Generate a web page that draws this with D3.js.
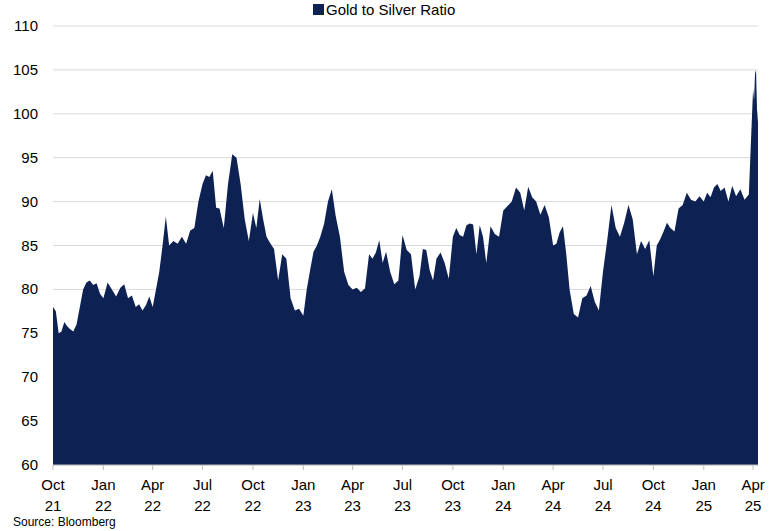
<!DOCTYPE html>
<html><head><meta charset="utf-8">
<script src="https://cdn.jsdelivr.net/npm/d3@7"></script>
<style>body{margin:0;background:#fff}text{font-family:"Liberation Sans",Arial,sans-serif}</style>
</head><body><svg id="c" width="770" height="531"></svg>
<script>
// weekly-ish readings per month, spread evenly within each month
var months = ["2021-10","2021-11","2021-12","2022-01","2022-02","2022-03","2022-04","2022-05","2022-06","2022-07","2022-08","2022-09",
  "2022-10","2022-11","2022-12","2023-01","2023-02","2023-03","2023-04","2023-05","2023-06","2023-07","2023-08","2023-09",
  "2023-10","2023-11","2023-12","2024-01","2024-02","2024-03","2024-04","2024-05","2024-06","2024-07","2024-08","2024-09",
  "2024-10","2024-11","2024-12","2025-01","2025-02","2025-03","2025-04"];
var monthValues = [
  [78,77.5,75,75.2,76.3,75.8],[75.5,75.2,76,78,80],[80.8,81,80.5,80.7,79.5],[79,80.8,80,79.2],[80.2,80.6,79,79.3],
  [78,78.3,77.6,78.2,79.2],[78,80,82,85,88.3],[85,85.5,85.2,86],[85.2,86.7,87,90],[92,93,92.8,93.5,89.3],
  [89.2,87,92,95.4],[95,92,88,85.5],[88.7,87,90.3,88,86],[85.3,84.6,81,84],[83.5,79,77.6,77.8],
  [77,80,82.2,84.3,85],[86,87.5,90,91.4],[88.4,86,82,80.5],[80,80.2,79.7,80.1],[84,83.5,84.2,85.6,83],
  [84.3,82,80.6,81],[86.2,84.5,84,80],[81.5,84.6,84.5,82.2,81],[83.5,84.2,83,81.2],[86,87,86.2,86,87.3],
  [87.5,87.4,84,87.3,86],[83,87.2,86.3,86],[89,89.5,90,91.6],[91,89,91.7,90.5],[90,88.5,89.6,88.2],
  [85,85.2,86.5,87.2,84],[80,77.2,76.8,79],[79.3,80.4,78.6,77.6],[82,85.6,89.6,87],[86,87.6,89.6,88],
  [84,85.5,84.6,85.6],[81.5,85,85.7,86.6,87.6],[87,86.6,89.2,89.6],[91,90.2,90,90.6],[90,91,90.5,91.6,92],
  [91.2,91.6,90,91.8],[90.6,91.4,90.2,90.8],[102.8,101.5,104.6,105,100.5]];
var endDate = new Date(2025,3,10);
var yTicks = [60,65,70,75,80,85,90,95,100,105,110];
var xTickMonths = ["Oct","Jan","Apr","Jul"];

var data = [];
months.forEach(function(m, i) {
  var p = m.split("-"), s = new Date(+p[0], +p[1]-1, 1);
  var e = i == months.length-1 ? endDate : new Date(+p[0], +p[1], 1);
  var vals = monthValues[i];
  for (var j=0;j<vals.length;++j)
    data.push({d: new Date(+s + (e - s) * j / vals.length), v: vals[j]});
});
data.push({d: endDate, v: 99});

var svg = d3.select("#c");
var L = 53, R = 758, T = 26, B = 465;
var x = d3.scaleTime().domain([new Date(2021,9,1), endDate]).range([L, R]);
var y = d3.scaleLinear().domain([60,110]).range([B, T]);

svg.append("g").selectAll("line").data(yTicks).join("line")
  .attr("x1", L).attr("x2", R).attr("y1", y).attr("y2", y)
  .attr("stroke", "#d9d9d9").attr("stroke-width", 1);

svg.append("path").datum(data)
  .attr("fill", "#0d2152")
  .attr("d", d3.area().x(function(d){return x(d.d);}).y0(B).y1(function(d){return y(d.v);}));

svg.append("g").selectAll("text").data(yTicks).join("text")
  .attr("x", 38).attr("y", function(d){return y(d)+5;}).attr("text-anchor", "end")
  .attr("font-size", 15).attr("fill", "#000").text(function(d){return d;});

var ticks = d3.timeMonth.range(new Date(2021,9,1), new Date(2025,4,1), 3);
var xa = svg.append("g");
xa.append("line").attr("x1", L).attr("x2", R).attr("y1", B).attr("y2", B).attr("stroke", "#bfbfbf");
ticks.forEach(function(t) {
  var tx = x(t);
  xa.append("line").attr("x1", tx).attr("x2", tx).attr("y1", B).attr("y2", B+5).attr("stroke", "#bfbfbf");
  xa.append("text").attr("x", tx).attr("y", 490).attr("text-anchor", "middle").attr("font-size", 15)
    .text(xTickMonths[Math.floor(t.getMonth()/3) == 3 ? 0 : Math.floor(t.getMonth()/3)+1]);
  xa.append("text").attr("x", tx).attr("y", 511).attr("text-anchor", "middle").attr("font-size", 15)
    .text(String(t.getFullYear()).slice(2));
});

svg.append("rect").attr("x", 313).attr("y", 4).attr("width", 11).attr("height", 11).attr("fill", "#0d2152");
svg.append("text").attr("x", 326).attr("y", 15).attr("font-size", 15).text("Gold to Silver Ratio");
svg.append("text").attr("x", 13).attr("y", 526).attr("font-size", 12).text("Source: Bloomberg");
</script></body></html>
